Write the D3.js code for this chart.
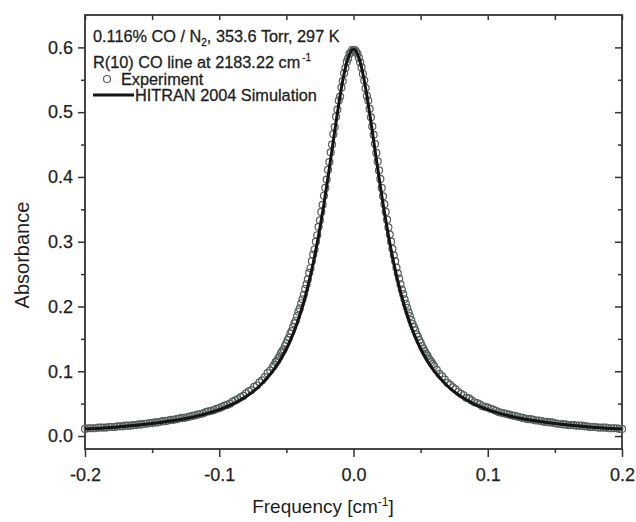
<!DOCTYPE html>
<html><head><meta charset="utf-8">
<script src="https://cdn.jsdelivr.net/npm/d3@7"></script>
<style>
html,body{margin:0;padding:0;background:#fff;}
svg{display:block;font-family:"Liberation Sans",Arial,sans-serif;}
</style></head>
<body><svg id="c" width="636" height="522"></svg>
<script>
// ---- data ----
const xTicks = [-0.2, -0.1, 0.0, 0.1, 0.2];
const xMinor = [-0.15, -0.05, 0.05, 0.15];
const yTicks = [0.0, 0.1, 0.2, 0.3, 0.4, 0.5, 0.6];
const yMinor = [0.05, 0.15, 0.25, 0.35, 0.45, 0.55];

const expFreqWingL = [-0.200,-0.198,-0.196,-0.194,-0.192,-0.190,-0.188,-0.186,-0.184,-0.182,
-0.180,-0.178,-0.176,-0.174,-0.172,-0.170,-0.168,-0.166,-0.164,-0.162,
-0.160,-0.158,-0.156,-0.154,-0.152,-0.150,-0.148,-0.146,-0.144,-0.142,
-0.140,-0.138,-0.136,-0.134,-0.132,-0.130,-0.128,-0.126,-0.124,-0.122,
-0.120,-0.118,-0.116,-0.114,-0.112,-0.110,-0.108,-0.106,-0.104,-0.102,
-0.100,-0.098,-0.096,-0.094,-0.092,-0.090,-0.088,-0.086,-0.084,-0.082,
-0.080,-0.078,-0.076,-0.074,-0.072,-0.070,-0.068,-0.066,-0.064,-0.062];
const expAbsWingL = [.011,.012,.012,.012,.012,.013,.013,.013,.013,.014,
.014,.014,.015,.015,.015,.016,.016,.016,.017,.017,
.018,.018,.019,.019,.020,.020,.021,.021,.022,.023,
.023,.024,.025,.025,.026,.027,.028,.028,.029,.030,
.031,.032,.033,.034,.035,.037,.038,.039,.040,.042,
.043,.045,.047,.048,.050,.053,.055,.057,.060,.062,
.066,.069,.071,.076,.078,.083,.086,.091,.097,.101];

const expFreqCore = [-0.060,-0.059,-0.058,-0.057,-0.056,-0.055,-0.054,-0.053,-0.052,-0.051,
-0.050,-0.049,-0.048,-0.047,-0.046,-0.045,-0.044,-0.043,-0.042,-0.041,
-0.040,-0.039,-0.038,-0.037,-0.036,-0.035,-0.034,-0.033,-0.032,-0.031,
-0.030,-0.029,-0.028,-0.027,-0.026,-0.025,-0.024,-0.023,-0.022,-0.021,
-0.020,-0.019,-0.018,-0.017,-0.016,-0.015,-0.014,-0.013,-0.012,-0.011,
-0.010,-0.009,-0.008,-0.007,-0.006,-0.005,-0.004,-0.003,-0.002,-0.001,
0.000,
0.001,0.002,0.003,0.004,0.005,0.006,0.007,0.008,0.009,0.010,
0.011,0.012,0.013,0.014,0.015,0.016,0.017,0.018,0.019,0.020,
0.021,0.022,0.023,0.024,0.025,0.026,0.027,0.028,0.029,0.030,
0.031,0.032,0.033,0.034,0.035,0.036,0.037,0.038,0.039,0.040,
0.041,0.042,0.043,0.044,0.045,0.046,0.047,0.048,0.049,0.050,
0.051,0.052,0.053,0.054,0.055,0.056,0.057,0.058,0.059,0.060];
const expAbsCore = [.107,.110,.114,.116,.120,.123,.128,.131,.134,.139,
.143,.148,.152,.158,.162,.168,.174,.178,.185,.192,
.197,.205,.211,.218,.227,.234,.242,.252,.259,.270,
.280,.288,.300,.310,.323,.333,.346,.357,.371,.383,
.396,.411,.423,.438,.450,.466,.477,.493,.504,.518,
.524,.538,.548,.560,.568,.578,.583,.590,.592,.596,
.595,
.596,.593,.590,.584,.577,.569,.559,.549,.537,.525,
.518,.505,.492,.478,.465,.451,.437,.424,.410,.397,
.383,.370,.358,.346,.334,.322,.311,.300,.289,.279,
.270,.260,.251,.243,.234,.226,.219,.211,.204,.198,
.191,.185,.179,.173,.168,.163,.157,.153,.148,.144,
.139,.135,.131,.127,.124,.120,.117,.114,.111,.108];

const expFreqWingR = [0.062,0.064,0.066,0.068,0.070,0.072,0.074,0.076,0.078,0.080,
0.082,0.084,0.086,0.088,0.090,0.092,0.094,0.096,0.098,0.100,
0.102,0.104,0.106,0.108,0.110,0.112,0.114,0.116,0.118,0.120,
0.122,0.124,0.126,0.128,0.130,0.132,0.134,0.136,0.138,0.140,
0.142,0.144,0.146,0.148,0.150,0.152,0.154,0.156,0.158,0.160,
0.162,0.164,0.166,0.168,0.170,0.172,0.174,0.176,0.178,0.180,
0.182,0.184,0.186,0.188,0.190,0.192,0.194,0.196,0.198,0.200];
const expAbsWingR = [.102,.096,.092,.087,.082,.079,.075,.072,.068,.065,
.063,.059,.058,.055,.052,.051,.049,.046,.045,.044,
.042,.041,.039,.037,.036,.035,.034,.033,.032,.031,
.030,.029,.028,.027,.026,.026,.025,.024,.024,.023,
.022,.022,.021,.021,.020,.019,.019,.018,.018,.017,
.017,.017,.016,.016,.016,.015,.015,.014,.014,.014,
.013,.013,.013,.013,.012,.012,.012,.012,.011,.011];

const simFreq = [-0.20,-0.19,-0.18,-0.17,-0.16,-0.15,-0.14,-0.13,-0.12,-0.11,-0.10,-0.09,-0.08,-0.07,-0.06,
-0.058,-0.056,-0.054,-0.052,-0.050,-0.048,-0.046,-0.044,-0.042,-0.040,
-0.038,-0.036,-0.034,-0.032,-0.030,-0.028,-0.026,-0.024,-0.022,-0.020,
-0.018,-0.016,-0.014,-0.012,-0.010,-0.008,-0.006,-0.004,-0.002,
0.000,
0.002,0.004,0.006,0.008,0.010,0.012,0.014,0.016,0.018,0.020,
0.022,0.024,0.026,0.028,0.030,0.032,0.034,0.036,0.038,0.040,
0.042,0.044,0.046,0.048,0.050,0.052,0.054,0.056,0.058,
0.06,0.07,0.08,0.09,0.10,0.11,0.12,0.13,0.14,0.15,0.16,0.17,0.18,0.19,0.20];
const simAbs = [.0107,.0118,.0131,.0152,.0172,.0195,.0222,.0252,.0292,.0342,.0408,.0494,.0610,.0773,.1005,
.1063,.1126,.1194,.1268,.1348,.1435,.1530,.1633,.1746,.1869,
.2003,.2149,.2309,.2483,.2672,.2876,.3098,.3335,.3588,.3855,
.4133,.4418,.4705,.4985,.5250,.5488,.5689,.5842,.5937,
.597,
.5937,.5842,.5689,.5488,.5250,.4985,.4705,.4418,.4133,.3855,
.3588,.3335,.3098,.2876,.2672,.2483,.2309,.2149,.2003,.1869,
.1746,.1633,.1530,.1435,.1348,.1268,.1194,.1126,.1063,
.1005,.0773,.0610,.0494,.0408,.0342,.0292,.0252,.0222,.0195,.0172,.0152,.0131,.0118,.0107];

// ---- chart ----
const svg = d3.select("#c");
const FONT = '"Liberation Sans",Arial,sans-serif';
const TXT = "#1e1e1e";
const x = d3.scaleLinear().domain([-0.2, 0.2]).range([85, 622]);
const y = d3.scaleLinear().domain([-0.02, 0.65]).range([449, 15]);

const expFreq = expFreqWingL.concat(expFreqCore, expFreqWingR);
const expAbs = expAbsWingL.concat(expAbsCore, expAbsWingR);
const expData = expFreq.map((f, i) => [f, expAbs[i]]);
const simData = simFreq.map((f, i) => [f, simAbs[i]]);

function styleAxis(g) {
  g.select(".domain").remove();
  g.selectAll(".tick line").attr("stroke", "#333").attr("stroke-width", 1.5);
  g.selectAll(".tick text").attr("fill", TXT).attr("font-size", 18).attr("font-family", FONT)
    .attr("stroke", TXT).attr("stroke-width", 0.25);
}
const fmt = d => d.toFixed(1);

// bottom
svg.append("g").attr("transform", `translate(0,${y.range()[0]})`)
  .call(d3.axisBottom(x).tickValues(xTicks).tickFormat(fmt).tickSize(8).tickPadding(11))
  .call(styleAxis);
svg.append("g").attr("transform", `translate(0,${y.range()[0]})`)
  .call(d3.axisBottom(x).tickValues(xMinor).tickFormat("").tickSize(4))
  .call(styleAxis);
// top (inward)
svg.append("g").attr("transform", `translate(0,${y.range()[1]})`)
  .call(d3.axisBottom(x).tickValues(xTicks.concat(xMinor)).tickFormat("").tickSize(5))
  .call(styleAxis);
// left
svg.append("g").attr("transform", `translate(${x.range()[0]},0)`)
  .call(d3.axisLeft(y).tickValues(yTicks).tickFormat(fmt).tickSize(7).tickPadding(5))
  .call(styleAxis);
svg.append("g").attr("transform", `translate(${x.range()[0]},0)`)
  .call(d3.axisLeft(y).tickValues(yMinor).tickFormat("").tickSize(4))
  .call(styleAxis);
// right (inward)
svg.append("g").attr("transform", `translate(${x.range()[1]},0)`)
  .call(d3.axisLeft(y).tickValues(yTicks).tickFormat("").tickSize(7))
  .call(styleAxis);
svg.append("g").attr("transform", `translate(${x.range()[1]},0)`)
  .call(d3.axisLeft(y).tickValues(yMinor).tickFormat("").tickSize(4))
  .call(styleAxis);

// frame
svg.append("rect")
  .attr("x", x.range()[0]).attr("y", y.range()[1])
  .attr("width", x.range()[1] - x.range()[0]).attr("height", y.range()[0] - y.range()[1])
  .attr("fill", "none").attr("stroke", "#333").attr("stroke-width", 1.8);

// experiment circles
svg.append("g").selectAll("circle").data(expData).join("circle")
  .attr("cx", d => x(d[0])).attr("cy", d => y(d[1])).attr("r", 3.5)
  .attr("fill", "none").attr("stroke", "#56605a").attr("stroke-width", 1.2);

// simulation line
svg.append("path").datum(simData)
  .attr("d", d3.line().x(d => x(d[0])).y(d => y(d[1])).curve(d3.curveMonotoneX))
  .attr("fill", "none").attr("stroke", "#141414").attr("stroke-width", 3);

// axis titles
svg.append("text").attr("x", 323).attr("y", 513).attr("text-anchor", "middle")
  .attr("font-size", 19).attr("fill", TXT).attr("font-family", FONT)
  .call(t => { t.append("tspan").text("Frequency [cm");
    t.append("tspan").attr("font-size", 12).attr("dy", -7).text("-1");
    t.append("tspan").attr("dy", 7).text("]"); });
svg.append("text").attr("transform", "translate(29,255) rotate(-90)").attr("text-anchor", "middle")
  .attr("font-size", 20).attr("fill", TXT).attr("font-family", FONT).text("Absorbance");

// annotations
const ann = svg.append("g").attr("font-family", FONT).attr("fill", TXT).attr("font-size", 16.3)
  .attr("stroke", TXT).attr("stroke-width", 0.3);
ann.append("text").attr("x", 93).attr("y", 42)
  .call(t => { t.append("tspan").text("0.116% CO / N");
    t.append("tspan").attr("font-size", 10).attr("dy", 4).text("2");
    t.append("tspan").attr("dy", -4).text(", 353.6 Torr, 297 K"); });
ann.append("text").attr("x", 93).attr("y", 68)
  .call(t => { t.append("tspan").text("R(10) CO line at 2183.22 cm");
    t.append("tspan").attr("font-size", 10).attr("dx", 2).attr("dy", -7).text("-1"); });
ann.append("circle").attr("cx", 107).attr("cy", 79).attr("r", 3.5)
  .attr("fill", "none").attr("stroke", "#56605a").attr("stroke-width", 1.2);
ann.append("text").attr("x", 121).attr("y", 84.5).text("Experiment");
ann.append("line").attr("x1", 93).attr("x2", 134).attr("y1", 95).attr("y2", 95)
  .attr("stroke", "#141414").attr("stroke-width", 3);
ann.append("text").attr("x", 135).attr("y", 101).text("HITRAN 2004 Simulation");
</script></body></html>
